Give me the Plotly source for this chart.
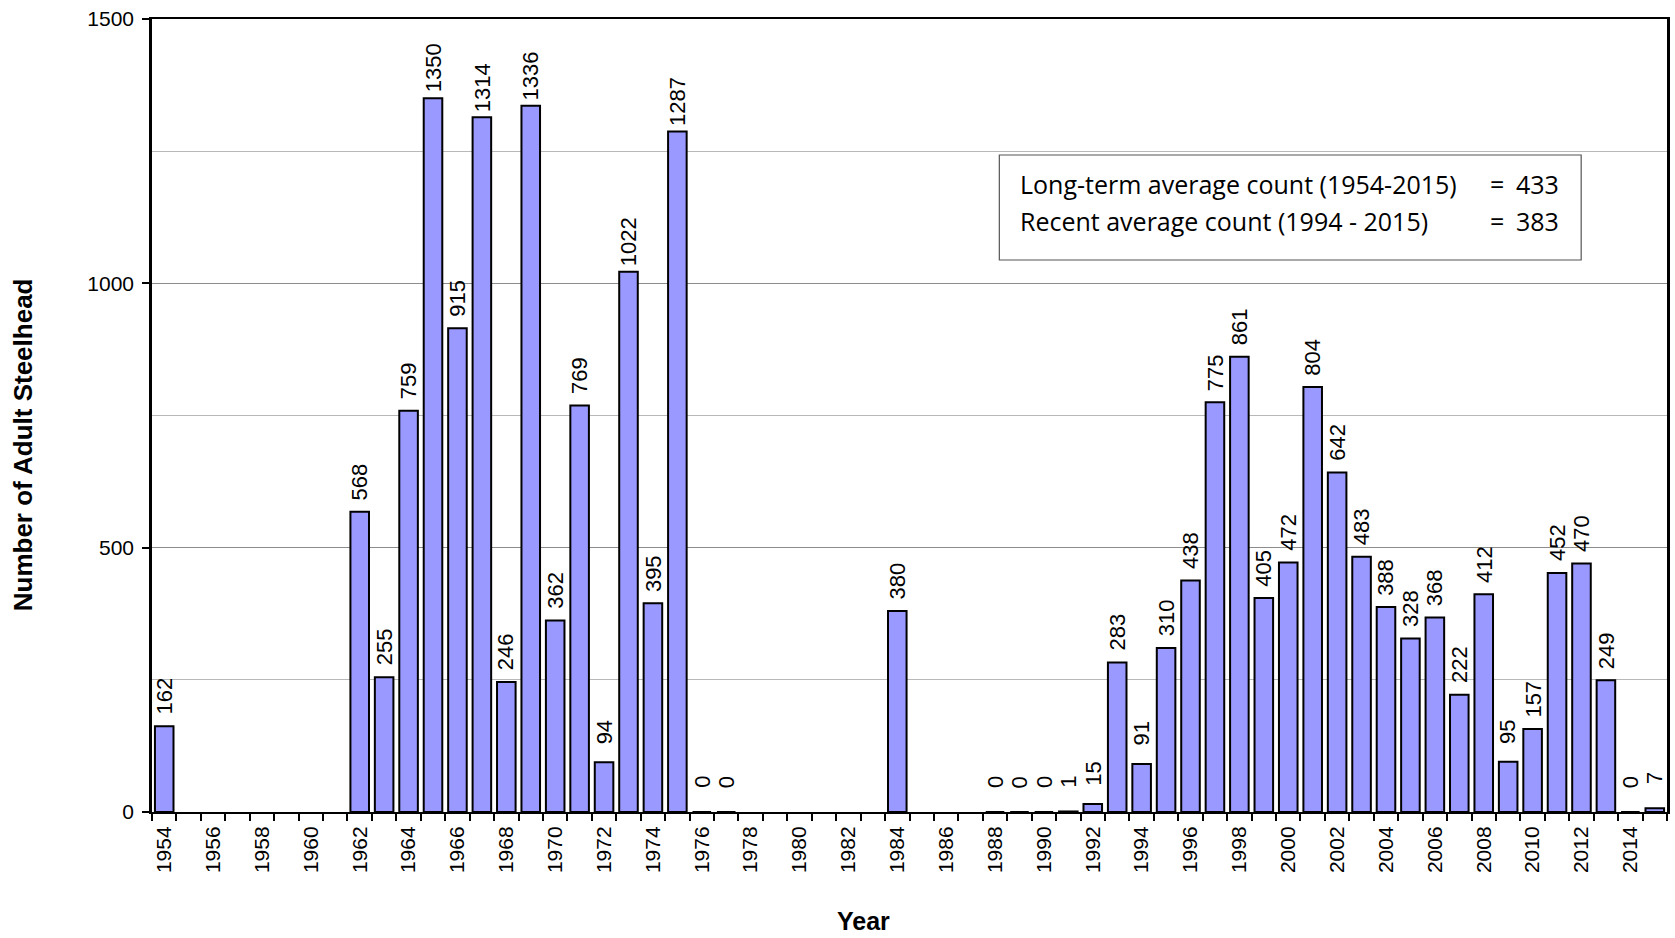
import plotly.graph_objects as go

years = list(range(1954, 2016))
counts = [162, None, None, None, None, None, None, None,
          568, 255, 759, 1350, 915, 1314, 246, 1336, 362, 769, 94, 1022, 395, 1287,
          0, 0, None, None, None, None, None, None,
          380, None, None, None,
          0, 0, 0, 1, 15, 283, 91, 310, 438, 775, 861, 405, 472, 804, 642, 483,
          388, 328, 368, 222, 412, 95, 157, 452, 470, 249, 0, 7]
tick_years = list(range(1954, 2016, 2))
y_ticks = [0, 500, 1000, 1500]

long_term_label = "Long-term average count (1954-2015)"
long_term_avg = 433
recent_label = "Recent average count (1994 - 2015)"
recent_avg = 383

W, H = 1675, 938
L, R, T, B = 152, 5, 19, 126
pw, ph = W - L - R, H - T - B

def px(x):
    return (x - L) / pw

def py(y):
    return (H - B - y) / ph

ARIAL = "Arial, Liberation Sans, sans-serif"

fig = go.Figure()
fig.add_trace(go.Bar(
    x=years, y=counts, width=0.76,
    marker=dict(color="#9999FF", line=dict(color="black", width=2)),
    hoverinfo="x+y",
))

annotations = []
for yr, v in zip(years, counts):
    if v is None:
        continue
    annotations.append(dict(
        x=yr, y=v, xref="x", yref="y", text=str(v), showarrow=False,
        textangle=-90, xanchor="center", yanchor="middle", yshift=30,
        font=dict(family=ARIAL, size=22, color="black"),
    ))

# axis titles
annotations.append(dict(
    x=px(23), y=py(445), xref="paper", yref="paper", text="<b>Number of Adult Steelhead</b>",
    showarrow=False, textangle=-90, xanchor="center", yanchor="middle",
    font=dict(family=ARIAL, size=26, color="black"),
))
annotations.append(dict(
    x=px(865), y=py(921), xref="paper", yref="paper", text="<b>Year</b>",
    showarrow=False, xanchor="center", yanchor="middle",
    font=dict(family=ARIAL, size=25, color="black"),
))

# info box text
BOXF = dict(family="Open Sans, sans-serif", size=25, color="black")
for lab, val, yc in [(long_term_label, long_term_avg, 184), (recent_label, recent_avg, 221)]:
    annotations.append(dict(x=px(1020), y=py(yc), xref="paper", yref="paper", text=lab,
                            showarrow=False, xanchor="left", yanchor="middle", font=BOXF))
    annotations.append(dict(x=px(1500), y=py(yc), xref="paper", yref="paper", text="=",
                            showarrow=False, xanchor="center", yanchor="middle", font=BOXF))
    annotations.append(dict(x=px(1517), y=py(yc), xref="paper", yref="paper", text=str(val),
                            showarrow=False, xanchor="left", yanchor="middle", font=BOXF))

shapes = [dict(type="rect", xref="paper", yref="paper",
               x0=px(1001), x1=px(1584), y0=py(260), y1=py(155),
               line=dict(color="#555555", width=1.2), fillcolor="white", layer="above")]

fig.update_layout(
    width=W, height=H,
    margin=dict(l=L, r=R, t=T, b=B, pad=0),
    plot_bgcolor="white", paper_bgcolor="white",
    showlegend=False,
    annotations=annotations,
    shapes=shapes,
    xaxis=dict(
        range=[1953.5, 2015.5], tickmode="array", tickvals=tick_years,
        ticktext=[str(t) for t in tick_years], tickangle=-90,
        ticks="", ticklabelstandoff=4,
        tickfont=dict(family=ARIAL, size=21, color="black"),
        showline=True, linecolor="black", linewidth=2, mirror=True,
        showgrid=False, zeroline=False,
        minor=dict(tickmode="array", tickvals=[y - 0.5 for y in years] + [2015.5],
                   ticks="outside", ticklen=7, tickcolor="black", tickwidth=1.5, showgrid=False),
    ),
    yaxis=dict(
        range=[0, 1500], tickmode="array", tickvals=y_ticks,
        ticks="outside", ticklen=7, tickcolor="black", tickwidth=1.5,
        ticklabelstandoff=4,
        tickfont=dict(family=ARIAL, size=21, color="black"),
        showline=True, linecolor="black", linewidth=2.5, mirror=True,
        showgrid=True, gridcolor="#8c8c8c", gridwidth=1.2, zeroline=False,
        minor=dict(tickmode="linear", tick0=0, dtick=250, showgrid=True,
                   gridcolor="#b8b8b8", gridwidth=1.2, ticks=""),
    ),
)

fig.write_html("out.html", config={"displayModeBar": False},
               post_script="document.body.style.margin='0';document.body.style.overflow='hidden';")
